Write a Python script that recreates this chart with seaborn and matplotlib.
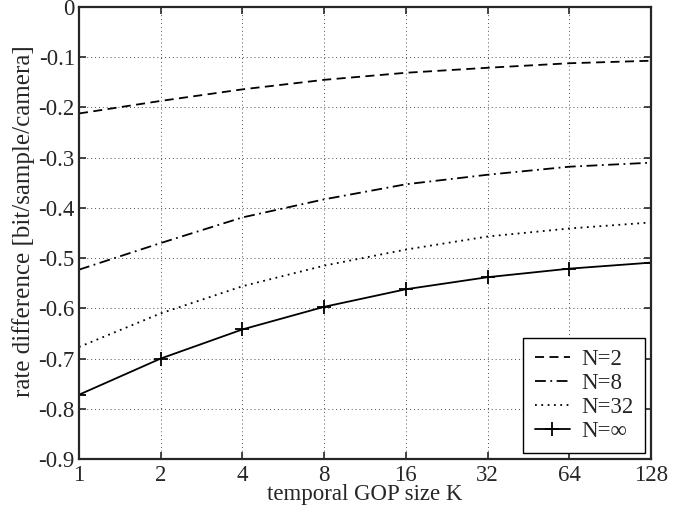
import numpy as np
import pandas as pd
import matplotlib
matplotlib.use("Agg")
import matplotlib.pyplot as plt
import seaborn as sns

K = [1, 2, 4, 8, 16, 32, 64, 128]
n2 = [-0.212, -0.187, -0.164, -0.145, -0.131, -0.121, -0.112, -0.107]
n8 = [-0.523, -0.470, -0.419, -0.383, -0.353, -0.334, -0.318, -0.310]
n32 = [-0.677, -0.610, -0.556, -0.515, -0.483, -0.457, -0.441, -0.429]
ninf = [-0.772, -0.700, -0.642, -0.597, -0.562, -0.538, -0.521, -0.509]
labels = ["N=2", "N=8", "N=32", "N=\u221e"]

df = pd.concat(
    [pd.DataFrame({"K": K, "rate": v, "N": lab}) for v, lab in zip([n2, n8, n32, ninf], labels)]
)

sns.set_style("ticks")
plt.rcParams["font.family"] = ["Liberation Serif", "DejaVu Serif"]

fig = plt.figure(figsize=(6.94, 5.13), dpi=100)
ax = fig.add_axes([79 / 694, 1 - 459 / 513, (651 - 79) / 694, (459 - 7) / 513])

styles = {
    "N=2": dict(linestyle=(0, (5, 3)), marker=None),
    "N=8": dict(linestyle=(0, (6, 2.5, 1, 2.5)), marker=None),
    "N=32": dict(linestyle=(0, (1, 2.5)), marker=None),
    "N=\u221e": dict(linestyle="-", marker="+"),
}
for lab in labels:
    sns.lineplot(
        data=df[df["N"] == lab],
        x="K",
        y="rate",
        ax=ax,
        color="black",
        linewidth=1.3,
        markersize=10,
        markeredgewidth=1.3,
        markeredgecolor="black",
        label=lab,
        **styles[lab],
    )

ax.set_xscale("log", base=2)
ax.set_xlim(1, 128)
ax.set_ylim(-0.9, 0)
ax.set_xticks(K)
ax.set_xticklabels([str(k) for k in K])
ax.xaxis.set_minor_locator(matplotlib.ticker.NullLocator())
yt = np.round(np.arange(-0.9, 0.01, 0.1), 1)
ax.set_yticks(yt)
ax.set_yticklabels(["0" if v == 0 else f"{v:.1f}" for v in yt])
ax.grid(True, linestyle=(0, (1, 3)), color="0.3", linewidth=0.7)
ax.tick_params(direction="in", top=True, right=True, length=5, width=1.2, labelsize=16.5)
ax.tick_params(axis="x", pad=4)
ax.tick_params(axis="y", pad=3)
for s in ax.spines.values():
    s.set_linewidth(1.6)
    s.set_visible(True)
ax.set_xlabel("temporal GOP size K", fontsize=16.5, labelpad=-1)
ax.set_ylabel("rate difference [bit/sample/camera]", fontsize=18)
ax.yaxis.set_label_coords(-0.077, 0.527)

leg = ax.legend(
    loc="lower right",
    fontsize=16.5,
    frameon=True,
    fancybox=False,
    edgecolor="black",
    framealpha=1,
    handlelength=1.55,
    borderaxespad=0.25,
    labelspacing=0.12,
    handletextpad=0.5,
    borderpad=0.5,
)
leg.get_frame().set_linewidth(1.0)

fig.savefig("out.png", dpi=100)
